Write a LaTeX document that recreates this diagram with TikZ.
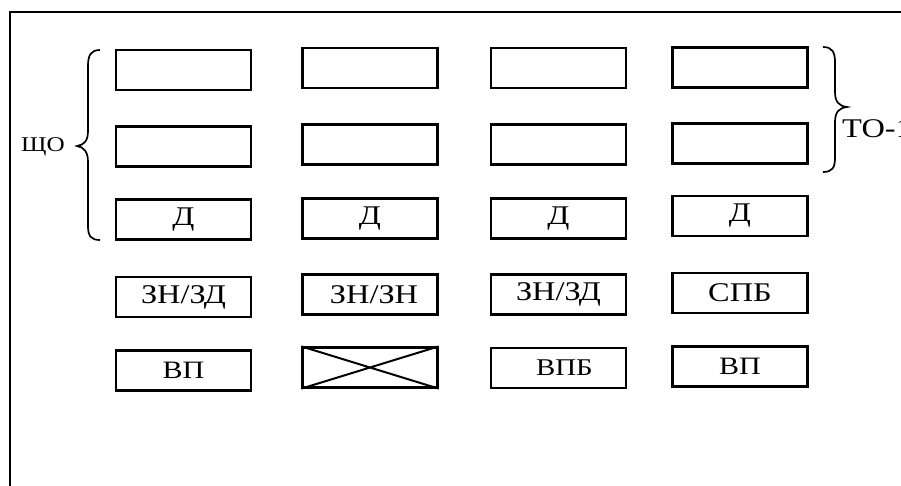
\documentclass[tikz,border=0pt]{standalone}
\usepackage{fontspec}
\setmainfont[FakeStretch=1.2]{Liberation Serif}
\begin{document}
\begin{tikzpicture}[x=1pt,y=-1pt,
  box/.style={draw, line width=2.2pt, inner sep=0pt, minimum width=135pt, minimum height=40pt},
  fbig/.style={font=\fontsize{27}{32}\selectfont},
  fmid/.style={font=\fontsize{25}{30}\selectfont},
  fsml/.style={font=\fontsize{24}{28}\selectfont},
  bracel/.style={line width=1.7pt}]
\useasboundingbox (0,0) rectangle (901,486);
\clip (0,0) rectangle (901,486);
\draw[line width=2.2pt] (10,12) rectangle (940,520);
% column 1
\node[box] (c1r1) at (183.5,70) {};
\node[box] (c1r2) at (183.5,146.5) {};
\node[box, fbig] (c1r3) at (183.5,219.5) {Д};
\node[box, fbig] (c1r4) at (183.5,297) {ЗН/ЗД};
\node[box, fmid] (c1r5) at (183.5,370.5) {ВП};
% column 2
\node[box] (c2r1) at (370,68) {};
\node[box] (c2r2) at (370,144.5) {};
\node[box, fbig] (c2r3) at (370,218.5) {Д};
\node[box, fbig] (c2r4) at (370,294.5) {\hspace{8pt}ЗН/ЗН};
\node[box] (c2r5) at (370,367.5) {};
\draw[line width=2pt] (c2r5.north west) -- (c2r5.south east)
  (c2r5.south west) -- (c2r5.north east);
% column 3
\node[box] (c3r1) at (558.5,68) {};
\node[box] (c3r2) at (558.5,144.5) {};
\node[box, fbig] (c3r3) at (558.5,218.5) {Д};
\node[box, fbig] (c3r4) at (558.5,294.5) {ЗН/ЗД};
\node[box, fsml] (c3r5) at (558.5,368) {\hspace{12pt}ВПБ};
% column 4
\node[box] (c4r1) at (740,67.5) {};
\node[box] (c4r2) at (740,143.5) {};
\node[box, fbig] (c4r3) at (740,216) {Д};
\node[box, fbig] (c4r4) at (740,293) {СПБ};
\node[box, fmid] (c4r5) at (740,366.5) {ВП};
% labels
\node[font=\fontsize{21}{25}\selectfont, anchor=west, inner sep=0pt] (shcho) at (21,147) {ЩО};
\node[font=\fontsize{27}{31}\selectfont, anchor=base west, inner sep=0pt] (to1) at (842,138) {ТО-1};
% left brace
\draw[bracel] (100,50) .. controls (91,50) and (88,55) .. (88,66)
  -- (88,131) .. controls (88,141) and (84,145) .. (77,146)
  .. controls (84,147) and (88,152) .. (88,162)
  -- (88,226) .. controls (88,236) and (91,240) .. (100,240);
% right brace
\draw[bracel] (823,47) .. controls (832,47) and (835,52) .. (835,62)
  -- (835,92) .. controls (835,102) and (839,106) .. (847,107)
  .. controls (839,108) and (835,112) .. (835,122)
  -- (835,158) .. controls (835,168) and (832,172) .. (823,172);
\end{tikzpicture}
\end{document}
